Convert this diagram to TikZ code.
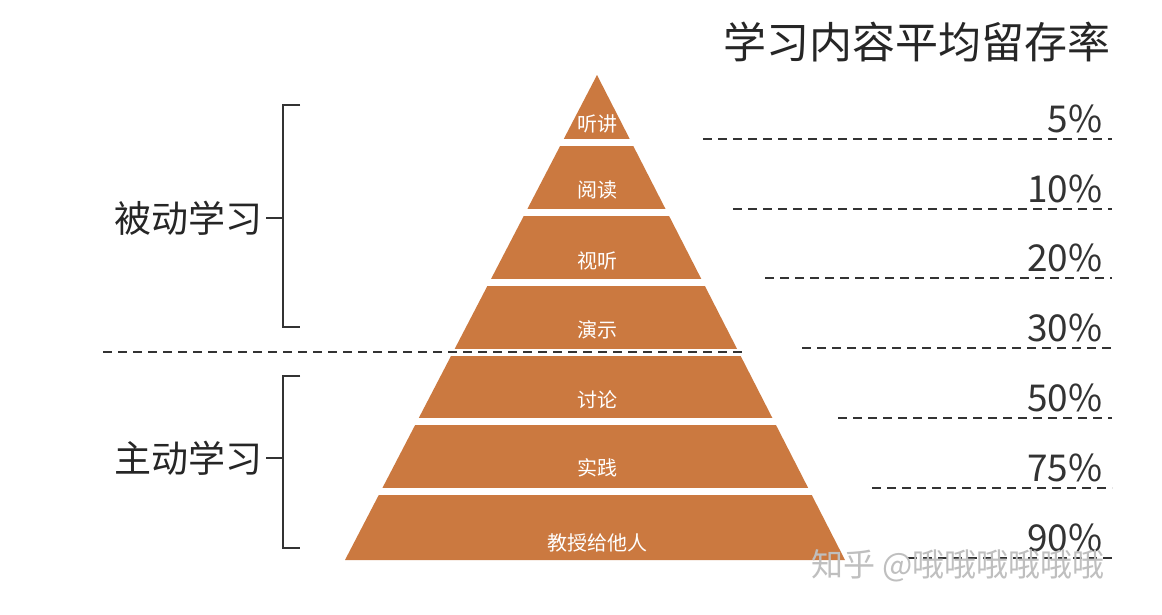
\documentclass[tikz,border=0pt]{standalone}
\usepackage{fontspec}
\setmainfont{Noto Sans CJK SC}
\begin{document}
\begin{tikzpicture}[x=1pt,y=-1pt,
  band/.style={text=white,font=\fontsize{20}{20}\selectfont},
  pct/.style={anchor=south east,text=black!80,font=\fontsize{37}{37}\selectfont},
  grp/.style={anchor=east,text=black!85,font=\fontsize{37}{37}\selectfont},
  dline/.style={dashed,dash pattern=on 9pt off 6pt,line width=1.6pt,black!80},
  brk/.style={line width=1.3pt,black!80}]
\useasboundingbox (0,0) rectangle (1162,614);
\fill[white] (0,0) rectangle (1162,614);
\fill[fill={rgb,255:red,203;green,121;blue,64}] (597,75) coordinate (apex) -- (845,560) -- (345,560) -- cycle;
\foreach \y in {142.5,212.5,282.5,352.5,421.5,491.5}
  \fill[white] (330,\y-3.5) rectangle (860,\y+3.5);
\node[band] (b1) at (597,124) {听讲};
\node[band] (b2) at (597,190) {阅读};
\node[band] (b3) at (597,261) {视听};
\node[band] (b4) at (597,330) {演示};
\node[band] (b5) at (597,400) {讨论};
\node[band] (b6) at (597,468) {实践};
\node[band] (b7) at (597,543) {教授给他人};
\node[text=black!85,font=\fontsize{43}{43}\selectfont] (title) at (917,42) {学习内容平均留存率};
\foreach \y/\x/\t/\n in {139/703/5\%/p1,209/733/10\%/p2,278/765/20\%/p3,348/802/30\%/p4,418/838/50\%/p5,488/872/75\%/p6,558/908/90\%/p7}{
  \coordinate (\n s) at (\x,\y);
  \coordinate (\n e) at (1112,\y);
  \draw[dline] (\n s) -- (\n e);
  \node[pct] (\n) at (1106,\y-2) {\t};
}
\coordinate (ls) at (103,352);
\coordinate (le) at (742,352);
\draw[dline] (ls) -- (le);
% brackets
\coordinate (u1) at (300,105); \coordinate (u2) at (300,327);
\draw[brk] (u1) -- ++(-17,0) |- (u2);
\coordinate (um) at (283,218);
\node[grp] (passive) at (266,218) {被动学习};
\draw[brk] (passive.east) -- (um);
\coordinate (d1) at (300,376); \coordinate (d2) at (300,548);
\draw[brk] (d1) -- ++(-17,0) |- (d2);
\coordinate (dm) at (283,458);
\node[grp] (active) at (266,458) {主动学习};
\draw[brk] (active.east) -- (dm);
\node[anchor=west,text=black!25,font=\fontsize{32}{32}\selectfont] (wm) at (808,566) {知乎 @哦哦哦哦哦哦};
\end{tikzpicture}
\end{document}
